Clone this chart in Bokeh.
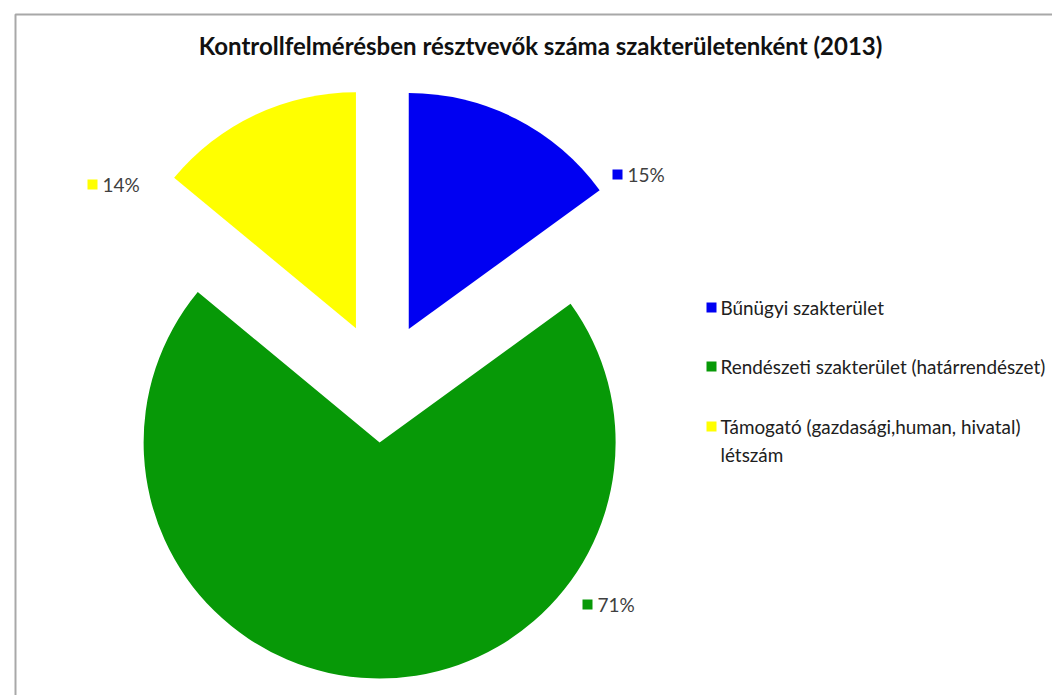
import math
from bokeh.plotting import figure
from bokeh.models import Range1d, Label
from bokeh.core.properties import value
from bokeh.embed import file_html
from bokeh.resources import INLINE

# ---- data ----
title_text = "Kontrollfelmérésben résztvevők száma szakterületenként (2013)"
categories = [
    "Bűnügyi szakterület",
    "Rendészeti szakterület (határrendészet)",
    "Támogató (gazdasági,human, hivatal)\nlétszám",
]
shares = [15, 71, 14]
pct_labels = ["15%", "71%", "14%"]
colors = ["#0000F2", "#079907", "#FFFF00"]

# ---- layout / style ----
W, H = 1052, 695
FONT = "Lato"
def sy(y):
    return H - y

pie_cx, pie_cy = 381, sy(382)
pie_r = 236
explode = 60
label_pos = [(617, 174), (587, 604), (92, 184)]   # marker positions (screen px)
legend_x = 711
legend_y = [307, 366, 426]
LEG_FS = 18.9

p = figure(width=W, height=H, x_range=Range1d(0, W), y_range=Range1d(0, H),
           x_axis_type=None, y_axis_type=None, toolbar_location=None,
           output_backend="svg", min_border=0)
p.grid.visible = False
p.outline_line_color = None
p.background_fill_color = "white"
p.border_fill_color = "white"

# frame lines
p.line([15, 15, W], [0, sy(14), sy(14)], line_color="#a8a8a8", line_width=2)

# wedges
total = float(sum(shares))
cum = 0.0
xs, ys, starts, ends = [], [], [], []
for s in shares:
    a0 = 360.0 * cum / total
    cum += s
    a1 = 360.0 * cum / total
    b = math.radians((a0 + a1) / 2.0)
    xs.append(pie_cx + explode * math.sin(b))
    ys.append(pie_cy + explode * math.cos(b))
    starts.append(math.radians(90 - a0))
    ends.append(math.radians(90 - a1))

p.wedge(x=xs, y=ys, radius=pie_r, start_angle=starts, end_angle=ends,
        direction="clock", fill_color=colors, line_color=None)

# data labels
for (mx, my), lab, c in zip(label_pos, pct_labels, colors):
    p.scatter([mx], [sy(my)], marker="square", size=10, fill_color=c, line_color=None)
    p.text([mx + 10], [sy(my)], text=[lab], text_font=value(FONT),
           text_font_size="19px", text_color="#404040", text_baseline="middle")

# legend
for ly, lab, c in zip(legend_y, categories, colors):
    p.scatter([legend_x], [sy(ly)], marker="square", size=10, fill_color=c, line_color=None)
    p.text([legend_x + 9], [sy(ly) + 11.5], text=[lab], text_font=value(FONT),
           text_font_size=f"{LEG_FS}px", text_color="#202020", text_baseline="top",
           text_line_height=1.22)

# title
p.add_layout(Label(x=540, y=sy(45), text=title_text, text_align="center",
                   text_baseline="middle", text_font=FONT, text_font_size="24px",
                   text_font_style="bold", text_color="#111111"))

open("out.html", "w").write(file_html(p, INLINE))
